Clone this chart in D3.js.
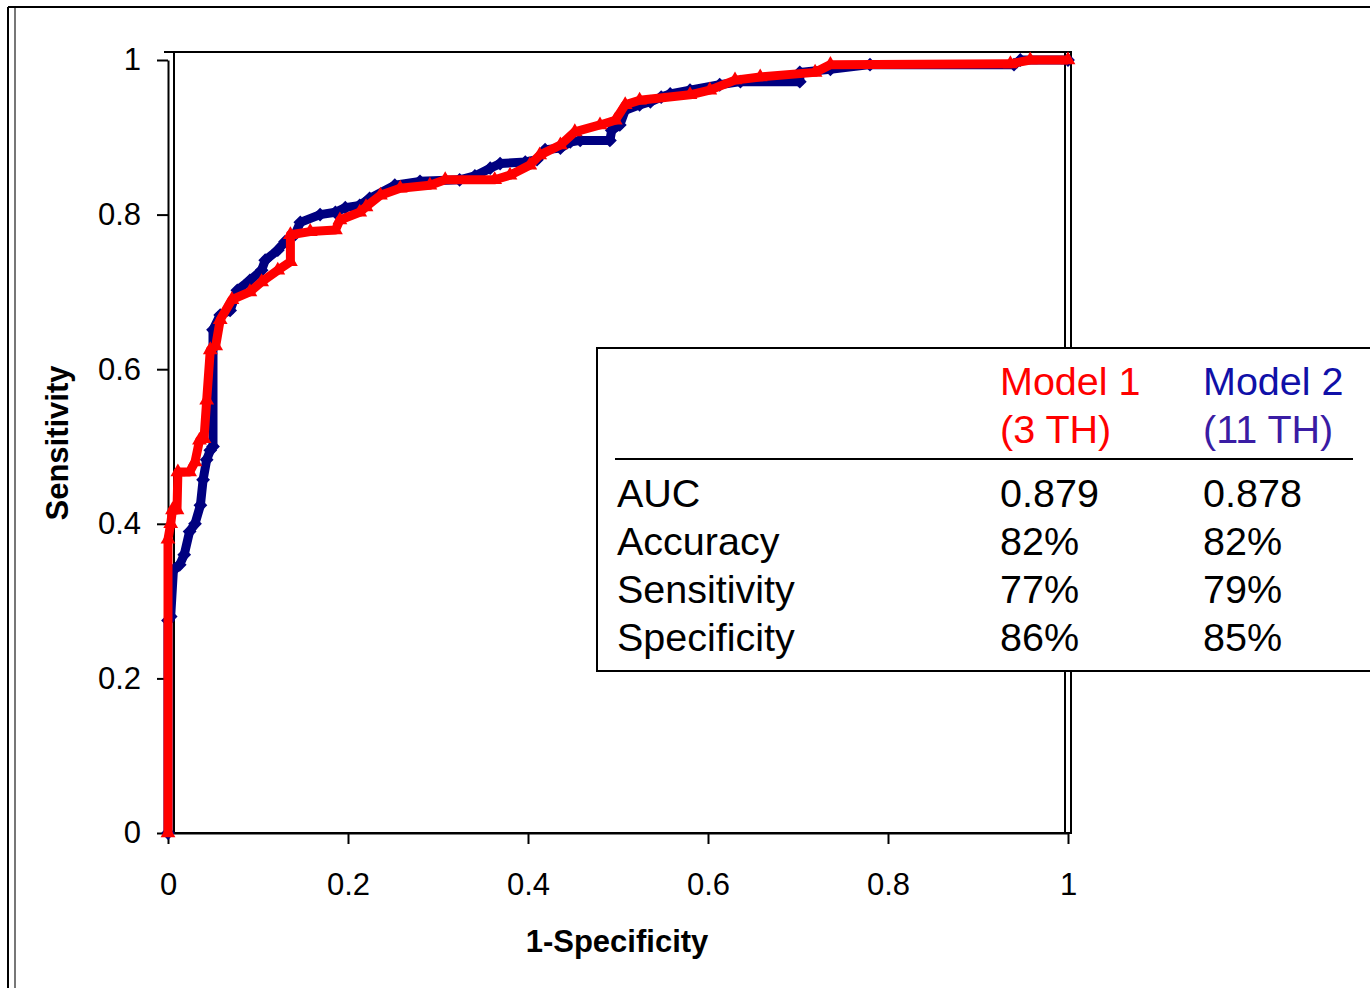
<!DOCTYPE html>
<html>
<head>
  <meta charset="utf-8">
  <title>ROC curves</title>
  <script src="https://d3js.org/d3.v7.min.js"></script>
  <style>
    body { margin: 0; background: white; }
    text { font-family: "Liberation Sans", Arial, sans-serif; }
  </style>
</head>
<body>
  <div id="graphContainer"></div>
  <script>
    // Model 1 (3 TH), red
    var fpr1 = [0, 0, 0.003, 0.005, 0.01, 0.011, 0.024, 0.03, 0.035, 0.04, 0.043, 0.047, 0.053, 0.058, 0.071, 0.091, 0.104, 0.122, 0.136, 0.136, 0.158, 0.186, 0.191, 0.213, 0.22, 0.236, 0.258, 0.291, 0.308, 0.363, 0.38, 0.402, 0.413, 0.436, 0.452, 0.48, 0.497, 0.508, 0.524, 0.58, 0.602, 0.63, 0.658, 0.719, 0.736, 0.936, 0.958, 1];
    var tpr1 = [0, 0.38, 0.40, 0.418, 0.418, 0.467, 0.467, 0.48, 0.508, 0.51, 0.56, 0.625, 0.63, 0.664, 0.69, 0.70, 0.713, 0.728, 0.739, 0.774, 0.778, 0.78, 0.793, 0.803, 0.81, 0.825, 0.834, 0.838, 0.845, 0.845, 0.851, 0.864, 0.877, 0.89, 0.907, 0.916, 0.922, 0.942, 0.948, 0.955, 0.961, 0.974, 0.978, 0.984, 0.994, 0.995, 1, 1];
    // Model 2 (11 TH), navy
    var fpr2 = [0, 0, 0.003, 0.006, 0.013, 0.018, 0.024, 0.03, 0.036, 0.039, 0.043, 0.047, 0.05, 0.05, 0.058, 0.069, 0.077, 0.091, 0.104, 0.108, 0.122, 0.13, 0.141, 0.147, 0.169, 0.186, 0.197, 0.213, 0.224, 0.252, 0.28, 0.324, 0.341, 0.358, 0.369, 0.397, 0.41, 0.419, 0.436, 0.447, 0.458, 0.491, 0.493, 0.502, 0.508, 0.524, 0.536, 0.548, 0.558, 0.58, 0.613, 0.636, 0.702, 0.702, 0.736, 0.78, 0.94, 0.947, 1];
    var tpr2 = [0, 0.275, 0.28, 0.34, 0.347, 0.36, 0.39, 0.40, 0.424, 0.457, 0.483, 0.495, 0.50, 0.651, 0.67, 0.676, 0.702, 0.715, 0.728, 0.741, 0.754, 0.765, 0.774, 0.79, 0.80, 0.803, 0.809, 0.812, 0.821, 0.838, 0.843, 0.845, 0.85, 0.86, 0.866, 0.868, 0.871, 0.884, 0.886, 0.894, 0.896, 0.896, 0.909, 0.916, 0.935, 0.942, 0.946, 0.952, 0.956, 0.961, 0.968, 0.972, 0.972, 0.984, 0.988, 0.994, 0.994, 1, 1];
    var ticks = [0, 0.2, 0.4, 0.6, 0.8, 1];
    var tableRows = ["AUC", "Accuracy", "Sensitivity", "Specificity"];
    var model1Stats = ["0.879", "82%", "77%", "86%"];
    var model2Stats = ["0.878", "82%", "79%", "85%"];

    var width = 1370;
    var height = 988;

    var svg = d3.select("#graphContainer")
      .append("svg")
        .attr("width", width)
        .attr("height", height);

    // outer frame
    svg.append("line").attr("x1", 8).attr("y1", 7).attr("x2", 8).attr("y2", height)
      .attr("stroke", "#000").attr("stroke-width", 2);
    svg.append("line").attr("x1", 15).attr("y1", 7).attr("x2", 15).attr("y2", height)
      .attr("stroke", "#777").attr("stroke-width", 2);
    svg.append("line").attr("x1", 8).attr("y1", 7).attr("x2", width).attr("y2", 7)
      .attr("stroke", "#000").attr("stroke-width", 2);

    var x = d3.scaleLinear().domain([0, 1]).range([168, 1068]);
    var y = d3.scaleLinear().domain([0, 1]).range([833, 60]);

    // plot area box
    svg.append("rect")
      .attr("x", 174).attr("y", 52)
      .attr("width", 897).attr("height", 781)
      .attr("fill", "none").attr("stroke", "#000").attr("stroke-width", 2);
    svg.append("line").attr("x1", 164).attr("y1", 52).attr("x2", 174).attr("y2", 52)
      .attr("stroke", "#000").attr("stroke-width", 2);
    svg.append("line").attr("x1", 1065).attr("y1", 52).attr("x2", 1065).attr("y2", 833)
      .attr("stroke", "#000").attr("stroke-width", 2);

    // axes
    var yAxis = svg.append("g")
      .attr("transform", "translate(" + x(0) + ",0)")
      .call(d3.axisLeft(y).tickValues(ticks).tickSize(11).tickSizeOuter(0)
        .tickPadding(16).tickFormat(d3.format("")));
    var xAxis = svg.append("g")
      .attr("transform", "translate(0," + y(0) + ")")
      .call(d3.axisBottom(x).tickValues(ticks).tickSize(11).tickSizeOuter(0)
        .tickPadding(29).tickFormat(d3.format("")));
    [xAxis, yAxis].forEach(function (a) {
      a.selectAll("path, line").attr("stroke", "#000").attr("stroke-width", 2);
      a.selectAll("text").attr("font-size", 31).attr("fill", "#000")
        .attr("font-family", "Liberation Sans, Arial, sans-serif");
    });

    svg.append("text")
      .attr("x", x(0.5) - 1).attr("y", 952)
      .attr("text-anchor", "middle")
      .attr("font-size", 31).attr("font-weight", "bold")
      .text("1-Specificity");
    svg.append("text")
      .attr("transform", "translate(68," + 443 + ") rotate(-90)")
      .attr("text-anchor", "middle")
      .attr("font-size", 31).attr("font-weight", "bold")
      .text("Sensitivity");

    // curves
    var line = d3.line().x(function (d) { return x(d[0]); }).y(function (d) { return y(d[1]); });
    var pts1 = fpr1.map(function (v, i) { return [v, tpr1[i]]; });
    var pts2 = fpr2.map(function (v, i) { return [v, tpr2[i]]; });

    function drawCurve(pts, color, symbol, rotate) {
      svg.append("path")
        .attr("d", line(pts))
        .attr("fill", "none")
        .attr("stroke", color)
        .attr("stroke-width", 9)
        .attr("stroke-linejoin", "round");
      svg.append("g").selectAll("path")
        .data(pts)
        .join("path")
          .attr("d", d3.symbol().type(symbol).size(95))
          .attr("transform", function (d) {
            return "translate(" + x(d[0]) + "," + y(d[1]) + ") rotate(" + rotate + ")";
          })
          .attr("fill", color);
    }
    drawCurve(pts2, "#000080", d3.symbolSquare, 45);
    drawCurve(pts1, "#ff0000", d3.symbolTriangle, 0);

    // stats table
    svg.append("rect")
      .attr("x", 597).attr("y", 348)
      .attr("width", 800).attr("height", 323)
      .attr("fill", "#fff").attr("stroke", "#000").attr("stroke-width", 2);
    svg.append("line").attr("x1", 615).attr("y1", 459).attr("x2", 1353).attr("y2", 459)
      .attr("stroke", "#000").attr("stroke-width", 2);

    var col0 = 617, col1 = 1000, col2 = 1203;
    function cell(cx, cy, txt, color) {
      svg.append("text").attr("x", cx).attr("y", cy)
        .attr("font-size", 39.5).attr("fill", color).text(txt);
    }
    cell(col1, 395, "Model 1", "#ff0000");
    cell(col1, 443, "(3 TH)", "#ff0000");
    cell(col2, 395, "Model 2", "#1010a8");
    cell(col2, 443, "(11 TH)", "#3a1ca4");
    tableRows.forEach(function (r, i) {
      var cy = 507 + i * 48;
      cell(col0, cy, r, "#000");
      cell(col1, cy, model1Stats[i], "#000");
      cell(col2, cy, model2Stats[i], "#000");
    });
  </script>
</body>
</html>
